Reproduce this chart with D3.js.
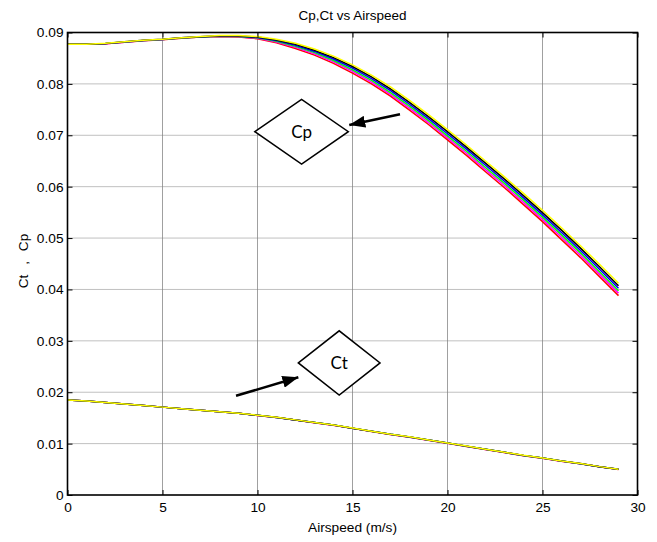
<!DOCTYPE html>
<html>
<head>
<meta charset="utf-8">
<script src="https://cdn.jsdelivr.net/npm/d3@7/dist/d3.min.js"></script>
<style>
  html, body { margin: 0; padding: 0; background: #fff; }
  svg { display: block; }
  text { font-family: "Liberation Sans", Arial, sans-serif; }
</style>
</head>
<body>
<svg id="chart" width="657" height="542"></svg>
<script>
// ---------- data ----------
const airspeed = [0,1,2,3,4,5,6,7,8,9,10,11,12,13,14,15,16,17,18,19,20,21,22,23,24,25,26,27,28,29];

const seriesNames  = ["red", "magenta", "green", "blue", "black", "yellow"];
const seriesColors = ["#ff0000", "#ff00ff", "#00ff00", "#0000ff", "#000000", "#ffff00"];

const cpRed     = [0.0877,0.0877,0.0878,0.0881,0.0884,0.0886,0.0889,0.0891,0.0892,0.0891,0.0888,0.0880,0.0869,0.0856,0.0840,0.0821,0.0800,0.0776,0.0749,0.0721,0.0691,0.0661,0.0629,0.0598,0.0565,0.0532,0.0497,0.0462,0.0425,0.0388];
const cpMagenta = [0.0877,0.0877,0.08782,0.08812,0.08842,0.08862,0.08892,0.08912,0.08924,0.08916,0.08888,0.08814,0.0871,0.08584,0.08428,0.08242,0.08034,0.07796,0.07528,0.07248,0.0695,0.0665,0.06332,0.06022,0.05694,0.05364,0.05016,0.04666,0.04298,0.03928];
const cpGreen   = [0.0877,0.0877,0.08784,0.08814,0.08844,0.08864,0.08894,0.08914,0.08928,0.08922,0.08896,0.08828,0.0873,0.08608,0.08456,0.08274,0.08068,0.07832,0.07566,0.07286,0.0699,0.0669,0.06374,0.06064,0.05738,0.05408,0.05062,0.04712,0.04346,0.03976];
const cpBlue    = [0.0877,0.0877,0.08786,0.08816,0.08846,0.08866,0.08896,0.08916,0.08932,0.08928,0.08904,0.08842,0.0875,0.08632,0.08484,0.08306,0.08102,0.07868,0.07604,0.07324,0.0703,0.0673,0.06416,0.06106,0.05782,0.05452,0.05108,0.04758,0.04394,0.04024];
const cpBlack   = [0.0877,0.0877,0.08788,0.08818,0.08848,0.08868,0.08898,0.08918,0.08936,0.08934,0.08912,0.08856,0.0877,0.08656,0.08512,0.08338,0.08136,0.07904,0.07642,0.07362,0.0707,0.0677,0.06458,0.06148,0.05826,0.05496,0.05154,0.04804,0.04442,0.04072];
const cpYellow  = [0.0877,0.0877,0.0879,0.0882,0.0885,0.0887,0.0890,0.0892,0.0894,0.0894,0.0892,0.0887,0.0879,0.0868,0.0854,0.0837,0.0817,0.0794,0.0768,0.0740,0.0711,0.0681,0.0650,0.0619,0.0587,0.0554,0.0520,0.0485,0.0449,0.0412];

const ctRed     = [0.0185,0.0183,0.0180,0.0177,0.0174,0.0171,0.0168,0.0165,0.0162,0.0159,0.01548,0.01508,0.01458,0.01407,0.01357,0.01297,0.01237,0.01176,0.01126,0.01066,0.01006,0.00946,0.00886,0.00826,0.00766,0.00716,0.00657,0.00607,0.00548,0.00498];
const ctMagenta = [0.0185,0.0183,0.0180,0.0177,0.0174,0.0171,0.0168,0.0165,0.0162,0.0159,0.01549,0.01509,0.01459,0.01408,0.01358,0.01298,0.01238,0.01177,0.01127,0.01067,0.01007,0.00947,0.00887,0.00827,0.00767,0.00717,0.00658,0.00608,0.00549,0.00499];
const ctGreen   = [0.0185,0.0183,0.0180,0.0177,0.0174,0.0171,0.0168,0.0165,0.0162,0.0159,0.01550,0.01510,0.01460,0.01410,0.01360,0.01300,0.01240,0.01180,0.01130,0.01070,0.01010,0.00950,0.00890,0.00830,0.00770,0.00720,0.00660,0.00610,0.00550,0.00500];
const ctBlue    = [0.0185,0.0183,0.0180,0.0177,0.0174,0.0171,0.0168,0.0165,0.0162,0.0159,0.01550,0.01510,0.01460,0.01410,0.01360,0.01300,0.01240,0.01180,0.01130,0.01070,0.01010,0.00950,0.00890,0.00830,0.00770,0.00720,0.00660,0.00610,0.00550,0.00500];
const ctBlack   = [0.0185,0.0183,0.0180,0.0177,0.0174,0.0171,0.0168,0.0165,0.0162,0.0159,0.01551,0.01511,0.01461,0.01411,0.01361,0.01301,0.01241,0.01181,0.01131,0.01071,0.01011,0.00951,0.00891,0.00831,0.00771,0.00721,0.00661,0.00611,0.00551,0.00501];
const ctYellow  = [0.0185,0.0183,0.0180,0.0177,0.0174,0.0171,0.0168,0.0165,0.0162,0.0159,0.01552,0.01512,0.01462,0.01412,0.01362,0.01302,0.01242,0.01182,0.01132,0.01072,0.01012,0.00952,0.00892,0.00832,0.00772,0.00722,0.00662,0.00612,0.00552,0.00502];

const cpSeries = [cpRed, cpMagenta, cpGreen, cpBlue, cpBlack, cpYellow];
const ctSeries = [ctRed, ctMagenta, ctGreen, ctBlue, ctBlack, ctYellow];

const xTicks = [0, 5, 10, 15, 20, 25, 30];
const yTicks = [0, 0.01, 0.02, 0.03, 0.04, 0.05, 0.06, 0.07, 0.08, 0.09];
const yTickLabels = ["0", "0.01", "0.02", "0.03", "0.04", "0.05", "0.06", "0.07", "0.08", "0.09"];

const titleText = "Cp,Ct vs Airspeed";
const xLabelText = "Airspeed (m/s)";
const yLabelText = "Ct , Cp";

// annotations (data coordinates)
const annoLabels  = ["Cp", "Ct"];
const annoCenterX = [12.32, 14.3];
const annoCenterY = [0.0707, 0.0257];
const annoHalfW   = [2.46, 2.15];
const annoHalfH   = [0.0063, 0.00625];
const arrowFromX  = [17.5, 8.87];
const arrowFromY  = [0.0741, 0.0193];
const arrowToX    = [14.83, 12.15];
const arrowToY    = [0.0720, 0.0229];

// ---------- layout ----------
const svg = d3.select("#chart");
const mLeft = 67.5, mRight = 637.5, mTop = 32.5, mBottom = 495;

const x = d3.scaleLinear().domain([0, 30]).range([mLeft, mRight]);
const y = d3.scaleLinear().domain([0, 0.09]).range([mBottom, mTop]);

// grid
const grid = svg.append("g");
grid.selectAll("line.vg").data(xTicks.slice(1, -1)).enter().append("line")
  .attr("x1", d => x(d)).attr("x2", d => x(d))
  .attr("y1", mTop).attr("y2", mBottom)
  .attr("stroke", "#a0a0a0").attr("stroke-width", 1);
grid.selectAll("line.hg").data(yTicks.slice(1, -1)).enter().append("line")
  .attr("x1", mLeft).attr("x2", mRight)
  .attr("y1", d => y(d)).attr("y2", d => y(d))
  .attr("stroke", "#808080").attr("stroke-width", 1).attr("stroke-dasharray", "1,1");

// lines
const line = d3.line().x((d, i) => x(airspeed[i])).y(d => y(d));
const linesG = svg.append("g");
cpSeries.forEach((s, k) => {
  linesG.append("path").datum(s).attr("d", line)
    .attr("fill", "none").attr("stroke", seriesColors[k]).attr("stroke-width", 1.5);
});
ctSeries.forEach((s, k) => {
  linesG.append("path").datum(s).attr("d", line)
    .attr("fill", "none").attr("stroke", seriesColors[k]).attr("stroke-width", 1.5);
});

// axes
const fmtY = (d) => yTickLabels[yTicks.indexOf(d)];
const axFont = "13.7px";
const gB = svg.append("g").attr("transform", `translate(0,${mBottom})`)
  .call(d3.axisBottom(x).tickValues(xTicks).tickSize(-5).tickPadding(7).tickFormat(d3.format("d")));
const gL = svg.append("g").attr("transform", `translate(${mLeft},0)`)
  .call(d3.axisLeft(y).tickValues(yTicks).tickSize(-5).tickPadding(4).tickFormat(fmtY));
const gT = svg.append("g").attr("transform", `translate(0,${mTop})`)
  .call(d3.axisTop(x).tickValues(xTicks).tickSize(-5).tickFormat(""));
const gR = svg.append("g").attr("transform", `translate(${mRight},0)`)
  .call(d3.axisRight(y).tickValues(yTicks).tickSize(-5).tickFormat(""));
[gB, gL, gT, gR].forEach(g => {
  g.select(".domain").remove();
  g.selectAll(".tick line").attr("stroke", "#000").attr("stroke-width", 1);
  g.selectAll("text").attr("fill", "#000").style("font-size", axFont)
    .style("font-family", '"Liberation Sans", Arial, sans-serif');
});

// box
svg.append("rect").attr("x", mLeft).attr("y", mTop)
  .attr("width", mRight - mLeft).attr("height", mBottom - mTop)
  .attr("fill", "none").attr("stroke", "#000").attr("stroke-width", 1.6);

// title & labels
svg.append("text").attr("x", (mLeft + mRight) / 2).attr("y", 19.5)
  .attr("text-anchor", "middle").style("font-size", "13.5px").text(titleText);
svg.append("text").attr("x", (mLeft + mRight) / 2).attr("y", 532)
  .attr("text-anchor", "middle").style("font-size", "13.7px").text(xLabelText);
svg.append("text").attr("transform", `translate(28,261) rotate(-90)`)
  .attr("text-anchor", "middle").style("font-size", "13.7px").style("word-spacing", "6px")
  .text(yLabelText);

// annotations
const defs = svg.append("defs");
defs.append("marker").attr("id", "ah").attr("markerUnits", "userSpaceOnUse")
  .attr("viewBox", "0 0 16 12").attr("refX", 16).attr("refY", 6)
  .attr("markerWidth", 16).attr("markerHeight", 12).attr("orient", "auto")
  .append("path").attr("d", "M0,0 L16,6 L0,12 Z").attr("fill", "#000");

annoLabels.forEach((lab, i) => {
  const cx = annoCenterX[i], cy = annoCenterY[i];
  const pts = [[cx - annoHalfW[i], cy], [cx, cy + annoHalfH[i]], [cx + annoHalfW[i], cy], [cx, cy - annoHalfH[i]]];
  svg.append("polygon")
    .attr("points", pts.map(p => `${x(p[0])},${y(p[1])}`).join(" "))
    .attr("fill", "#fff").attr("stroke", "#000").attr("stroke-width", 1.5);
  svg.append("text").attr("x", x(cx)).attr("y", y(cy) + 6)
    .attr("text-anchor", "middle").style("font-family", "Lato, 'Open Sans', sans-serif")
    .style("font-size", "17px").text(lab);
  svg.append("line")
    .attr("x1", x(arrowFromX[i])).attr("y1", y(arrowFromY[i]))
    .attr("x2", x(arrowToX[i])).attr("y2", y(arrowToY[i]))
    .attr("stroke", "#000").attr("stroke-width", 2.5).attr("marker-end", "url(#ah)");
});
</script>
</body>
</html>
